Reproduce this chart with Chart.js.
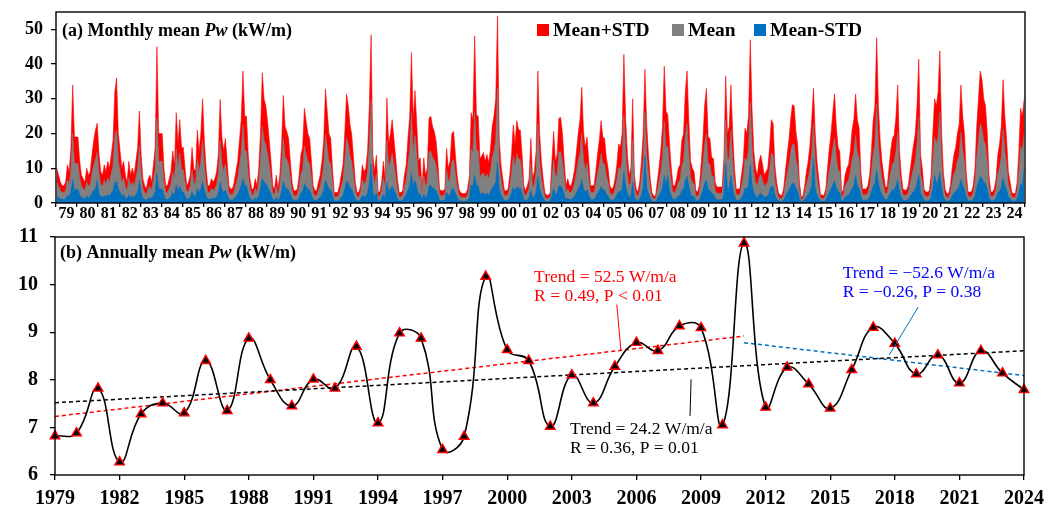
<!DOCTYPE html>
<html>
<head>
<meta charset="utf-8">
<title>Monthly and annual mean Pw</title>
<script src="https://cdn.jsdelivr.net/npm/chart.js@4.4.1/dist/chart.umd.min.js"></script>
<style>
  html, body { margin: 0; padding: 0; background: #fff; }
  #wrap { position: relative; width: 1061px; height: 509px; overflow: hidden; }
  #monthly { position: absolute; left: 0; top: 0; }
  #annual { position: absolute; left: 0; top: 222px; }
</style>
</head>
<body>
<div id="wrap">
  <canvas id="monthly" width="1061" height="225"></canvas>
  <canvas id="annual" width="1061" height="287"></canvas>
</div>
<script>
// ---- data ----
const years = [1979, 1980, 1981, 1982, 1983, 1984, 1985, 1986, 1987, 1988, 1989, 1990,
    1991, 1992, 1993, 1994, 1995, 1996, 1997, 1998, 1999, 2000, 2001, 2002, 2003, 2004,
    2005, 2006, 2007, 2008, 2009, 2010, 2011, 2012, 2013, 2014, 2015, 2016, 2017, 2018,
    2019, 2020, 2021, 2022, 2023, 2024];

// monthly Pw (kW/m), Jan..Dec per row
const meanPlusStd = [
    10, 8, 6, 5, 5, 6, 11, 9, 16, 34, 19, 19,
    19, 12, 8, 7, 6, 10, 8, 9, 14, 18, 21, 23,
    14, 9, 8, 11, 9, 12, 10, 14, 18, 32, 36, 20,
    15, 10, 12, 8, 6, 12, 8, 10, 8, 12, 16, 26.5,
    14, 7, 5, 4, 7, 8, 6, 11, 16, 45, 20, 20,
    20, 10, 5, 5, 7, 9, 15, 11, 26, 17, 24, 16,
    16, 10, 5, 6, 8, 16, 10, 9, 21, 15, 20, 30,
    18, 10, 5, 5, 7, 6, 7, 9, 14, 29.8, 19, 15,
    18.6, 12, 5, 4, 4, 6, 9, 12, 18, 24, 38, 25,
    25, 14, 7, 4, 4, 7, 5, 10, 20, 37.5, 30, 28,
    23.5, 18, 12, 5, 4, 8, 4, 8, 16.7, 31, 22, 20.6,
    18.6, 12, 6, 3.5, 3.5, 4, 8, 13.8, 16, 27.3, 23.5, 20,
    18.6, 12, 5, 3.5, 3.5, 6, 8, 12, 18, 32.8, 26.4, 20,
    18.6, 10, 3, 3, 3, 5, 8, 11, 20, 31.4, 28, 22.5,
    19.6, 12.8, 6, 3, 3, 5, 11, 9, 10, 15, 28, 48.4,
    13.8, 9, 13.8, 3.2, 3.2, 6, 12, 7, 30.2, 17, 20, 24,
    18.6, 13, 7, 3, 3, 3.5, 8, 11, 18.6, 25, 43.3, 24,
    32.4, 23, 12, 13, 4, 13, 8, 10, 24.4, 25, 22, 20.6,
    18, 12, 4, 3.5, 3.5, 4, 15.7, 10, 12, 20, 20.6, 14,
    8, 4, 3, 2.7, 2.7, 2.7, 4, 8, 26, 24, 48.1, 25.4,
    25, 12.8, 13.5, 14.5, 12, 14, 11.5, 15.5, 22, 25, 30, 53.9,
    18.6, 11, 7, 3.5, 3.5, 4, 8, 14, 22.5, 17, 23.7, 21,
    21, 14, 5, 3.5, 5, 7, 18.6, 7, 9, 15, 38, 20,
    12, 7, 3, 2.2, 2.2, 3, 12, 20.6, 12, 14, 24.4, 24.6,
    20, 12, 5, 7, 5, 5, 7, 10, 15, 20, 24, 33.3,
    20.6, 16, 19, 12, 5, 5, 5, 9, 14, 18, 23.7, 19,
    18.6, 13, 10, 5, 4, 4.5, 7, 11, 17, 16, 20, 42.8,
    24.4, 14, 8, 10, 30, 8, 4, 3.2, 6, 12, 20, 38.5,
    22.5, 14, 7, 3, 2, 2, 6, 10, 15, 22, 39.4, 26.4,
    25.4, 17, 10, 5, 5, 7, 10, 11, 18, 20, 32, 38,
    23.5, 12, 10, 9, 3.5, 3.2, 5, 11, 18, 28, 33, 19,
    18.6, 13, 12.8, 6, 4.6, 4.6, 4.6, 4.6, 13, 36.5, 20, 22,
    34, 20, 10, 4, 4, 4, 8, 12, 21.5, 20, 25, 47,
    27, 15, 10, 8, 12, 13.8, 11, 8, 9, 10, 16, 24,
    23, 11, 6, 3, 2.2, 2.2, 4, 9, 13.8, 18, 24, 28.3,
    28, 20.6, 16.7, 6, 1.7, 2, 5, 9, 12, 16.7, 24, 33,
    20, 12, 7, 2.5, 2.2, 2.2, 4, 10, 15.5, 20, 26, 31.4,
    22, 16, 14.8, 3.2, 3.7, 8, 10, 11, 15, 21, 24, 31.4,
    24, 21.5, 9, 4, 4, 4, 5, 8, 15, 23.5, 28, 47.6,
    28, 18, 12, 8, 4.6, 4.6, 10, 15, 18.6, 19.6, 25, 34,
    15, 8, 4, 3.7, 3.7, 5, 9, 13, 16.7, 20, 28, 41.4,
    14, 10, 4, 3.2, 3.2, 3.5, 8, 20, 30, 28, 32, 43.8,
    20, 9, 4, 2.7, 2.7, 5, 10, 13.8, 16, 20, 22.5, 34,
    25, 20, 9, 3.2, 3.2, 3.2, 5, 10, 22, 30, 38, 35.5,
    30, 28, 20, 8, 3.2, 3.2, 4, 7, 13.8, 17, 22, 35.5,
    25, 18.6, 9, 6, 3, 2.7, 2.7, 6, 15, 27.3, 25, 29.8
];

const meanPw = [
    6, 4.8, 3.6, 3, 3, 3.6, 6.6, 5.4, 9.6, 20, 11.4, 11.4,
    11.4, 7.2, 4.8, 4.2, 3.6, 6, 4.8, 5.4, 8.4, 10.8, 12.6, 14.5,
    8.4, 5.4, 4.8, 6.6, 5.4, 7.2, 6, 8.4, 10.8, 19, 21, 12,
    9, 6, 7.2, 4.8, 3.6, 7.2, 4.8, 6, 4.8, 7.2, 9.6, 16.5,
    8.4, 4.2, 3, 2.4, 4.2, 4.8, 3.6, 6.6, 9.6, 24.5, 12, 12,
    12, 6, 3, 3, 4.2, 5.4, 9, 6.6, 15.6, 10.2, 14.4, 9.6,
    9.6, 6, 3, 3.6, 4.8, 9.6, 6, 5.4, 12.6, 9, 12, 18,
    10.8, 6, 3, 3, 4.2, 3.6, 4.2, 5.4, 8.4, 18, 11.4, 9,
    11.2, 7.2, 3, 2.4, 2.4, 3.6, 5.4, 7.2, 10.8, 14.4, 22.5, 15,
    15, 8.4, 4.2, 2.4, 2.4, 4.2, 3, 6, 12, 22, 18, 16.8,
    14.1, 10.8, 7.2, 3, 2.4, 4.8, 2.4, 4.8, 10, 18.6, 13.2, 12.4,
    11.2, 7.2, 3.6, 2.1, 2.1, 2.4, 4.8, 8.3, 9.6, 16.4, 14.1, 12,
    11.2, 7.2, 3, 2.1, 2.1, 3.6, 4.8, 7.2, 10.8, 19.7, 15.8, 12,
    11.2, 6, 1.8, 1.8, 1.8, 3, 4.8, 6.6, 12, 18.8, 16.8, 13.5,
    11.8, 7.7, 3.6, 1.8, 1.8, 3, 6.6, 5.4, 6, 9, 16.8, 29.8,
    8.3, 5.4, 8.3, 1.9, 1.9, 3.6, 7.2, 4.2, 18.1, 10.2, 12, 14.4,
    11.2, 7.8, 4.2, 1.8, 1.8, 2.1, 4.8, 6.6, 11.2, 15, 26, 14.4,
    19.4, 13.8, 7.2, 7.8, 2.4, 7.8, 4.8, 6, 14.6, 15, 13.2, 12.4,
    10.8, 7.2, 2.4, 2.1, 2.1, 2.4, 9.4, 6, 7.2, 12, 12.4, 8.4,
    4.8, 2.4, 1.8, 1.6, 1.6, 1.6, 2.4, 4.8, 15.6, 14.4, 26, 15.2,
    15, 7.7, 8.1, 8.7, 7.2, 8.4, 6.9, 9.3, 13.2, 15, 18, 33,
    11.2, 6.6, 4.2, 2.1, 2.1, 2.4, 4.8, 8.4, 13.5, 10.2, 14.2, 12.6,
    12.6, 8.4, 3, 2.1, 3, 4.2, 11.2, 4.2, 5.4, 9, 22.8, 12,
    7.2, 4.2, 1.8, 1.3, 1.3, 1.8, 7.2, 12.4, 7.2, 8.4, 14.6, 14.8,
    12, 7.2, 3, 4.2, 3, 3, 4.2, 6, 9, 12, 14.4, 20,
    12.4, 9.6, 11.4, 7.2, 3, 3, 3, 5.4, 8.4, 10.8, 14.2, 11.4,
    11.2, 7.8, 6, 3, 2.4, 2.7, 4.2, 6.6, 10.2, 9.6, 12, 25.4,
    14.6, 8.4, 4.8, 6, 18, 4.8, 2.4, 1.9, 3.6, 7.2, 12, 26,
    13.5, 8.4, 4.2, 1.8, 1.2, 1.2, 3.6, 6, 9, 13.2, 23.6, 15.8,
    16.5, 10.2, 6, 3, 3, 4.2, 6, 6.6, 10.8, 12, 19.2, 22.8,
    14.1, 7.2, 6, 5.4, 2.1, 1.9, 3, 6.6, 10.8, 16.8, 19.8, 11.4,
    11.2, 7.8, 7.7, 3.6, 2.8, 2.8, 2.8, 2.8, 7.8, 24, 12, 13.2,
    21, 12, 6, 2.4, 2.4, 2.4, 4.8, 7.2, 12.9, 12, 15, 29,
    16.2, 9, 6, 4.8, 7.2, 8.3, 6.6, 4.8, 5.4, 6, 9.6, 14.4,
    13.8, 6.6, 3.6, 1.8, 1.3, 1.3, 2.4, 5.4, 8.3, 10.8, 14.4, 17,
    16.8, 12.4, 10, 3.6, 1, 1.2, 3, 5.4, 7.2, 10, 14.4, 23,
    12, 7.2, 4.2, 1.5, 1.3, 1.3, 2.4, 6, 9.3, 12, 15.6, 18.8,
    13.2, 9.6, 8.9, 1.9, 2.2, 4.8, 6, 6.6, 9, 12.6, 14.4, 19.5,
    14.4, 12.9, 5.4, 2.4, 2.4, 2.4, 3, 4.8, 9, 14.1, 16.8, 28.5,
    16.8, 10.8, 7.2, 4.8, 2.8, 2.8, 6, 9, 11.2, 11.8, 15, 20.4,
    9, 4.8, 2.4, 2.2, 2.2, 3, 5.4, 7.8, 10, 12, 16.8, 24.8,
    8.4, 6, 2.4, 1.9, 1.9, 2.1, 4.8, 12, 19, 16.8, 19.2, 26.3,
    12, 5.4, 2.4, 1.6, 1.6, 3, 6, 8.3, 9.6, 12, 13.5, 20.4,
    15, 12, 5.4, 1.9, 1.9, 1.9, 3, 6, 13.2, 18, 22.8, 21.3,
    18, 16.8, 12, 4.8, 1.9, 1.9, 2.4, 4.2, 8.3, 10.2, 13.2, 21.3,
    15, 11.2, 5.4, 3.6, 1.8, 1.6, 1.6, 3.6, 9, 16.4, 15, 20
];

const meanMinusStd = [
    2, 1.6, 1.2, 1, 1, 1.2, 2.2, 1.8, 3.2, 6.6, 3.8, 3.8,
    3.8, 2.4, 1.6, 1.4, 1.2, 2, 1.6, 1.8, 2.8, 3.6, 4.2, 6.5,
    2.8, 1.8, 1.6, 2.2, 1.8, 2.4, 2, 2.8, 3.6, 6, 6, 4,
    3, 2, 2.4, 1.6, 1.2, 2.4, 1.6, 2, 1.6, 2.4, 3.2, 6.5,
    2.8, 1.4, 1, 0.8, 1.4, 1.6, 1.2, 2.2, 3.2, 8.5, 4, 4,
    4, 2, 1, 1, 1.4, 1.8, 3, 2.2, 5.2, 3.4, 4.8, 3.2,
    3.2, 2, 1, 1.2, 1.6, 3.2, 2, 1.8, 4.2, 3, 4, 6,
    3.6, 2, 1, 1, 1.4, 1.2, 1.4, 1.8, 2.8, 6, 3.8, 3,
    3.7, 2.4, 1, 0.8, 0.8, 1.2, 1.8, 2.4, 3.6, 4.8, 7, 5,
    5, 2.8, 1.4, 0.8, 0.8, 1.4, 1, 2, 4, 7, 6, 5.6,
    4.7, 3.6, 2.4, 1, 0.8, 1.6, 0.8, 1.6, 3.3, 6.2, 4.4, 4.1,
    3.7, 2.4, 1.2, 0.7, 0.7, 0.8, 1.6, 2.8, 3.2, 5.5, 4.7, 4,
    3.7, 2.4, 1, 0.7, 0.7, 1.2, 1.6, 2.4, 3.6, 6.6, 5.3, 4,
    3.7, 2, 0.6, 0.6, 0.6, 1, 1.6, 2.2, 4, 6.3, 5.6, 4.5,
    3.9, 2.6, 1.2, 0.6, 0.6, 1, 2.2, 1.8, 2, 3, 5.6, 11.2,
    2.8, 1.8, 2.8, 0.6, 0.6, 1.2, 2.4, 1.4, 6, 3.4, 4, 4.8,
    3.7, 2.6, 1.4, 0.6, 0.6, 0.7, 1.6, 2.2, 3.7, 5, 8.7, 4.8,
    6.5, 4.6, 2.4, 2.6, 0.8, 2.6, 1.6, 2, 4.9, 5, 4.4, 4.1,
    3.6, 2.4, 0.8, 0.7, 0.7, 0.8, 3.1, 2, 2.4, 4, 4.1, 2.8,
    1.6, 0.8, 0.6, 0.5, 0.5, 0.5, 0.8, 1.6, 5.2, 4.8, 8, 5.1,
    5, 2.6, 2.7, 2.9, 2.4, 2.8, 2.3, 3.1, 4.4, 5, 6, 11.9,
    3.7, 2.2, 1.4, 0.7, 0.7, 0.8, 1.6, 2.8, 4.5, 3.4, 4.7, 4.2,
    4.2, 2.8, 1, 0.7, 1, 1.4, 3.7, 1.4, 1.8, 3, 7.6, 4,
    2.4, 1.4, 0.6, 0.4, 0.4, 0.6, 2.4, 4.1, 2.4, 2.8, 4.9, 4.9,
    4, 2.4, 1, 1.4, 1, 1, 1.4, 2, 3, 4, 4.8, 6.7,
    4.1, 3.2, 3.8, 2.4, 1, 1, 1, 1.8, 2.8, 3.6, 4.7, 3.8,
    3.7, 2.6, 2, 1, 0.8, 0.9, 1.4, 2.2, 3.4, 3.2, 4, 9,
    4.9, 2.8, 1.6, 2, 6, 1.6, 0.8, 0.6, 1.2, 2.4, 4, 13.5,
    4.5, 2.8, 1.4, 0.6, 0.4, 0.4, 1.2, 2, 3, 4.4, 7.9, 5.3,
    8, 3.4, 2, 1, 1, 1.4, 2, 2.2, 3.6, 4, 6.4, 7.6,
    4.7, 2.4, 2, 1.8, 0.7, 0.6, 1, 2.2, 3.6, 5.6, 6.6, 3.8,
    3.7, 2.6, 2.6, 1.2, 0.9, 0.9, 0.9, 0.9, 2.6, 11.5, 4, 4.4,
    8, 4, 2, 0.8, 0.8, 0.8, 1.6, 2.4, 4.3, 4, 5, 11,
    5.4, 3, 2, 1.6, 2.4, 2.8, 2.2, 1.6, 1.8, 2, 3.2, 4.8,
    4.6, 2.2, 1.2, 0.6, 0.4, 0.4, 0.8, 1.8, 2.8, 3.6, 4.8, 5.7,
    5.6, 4.1, 3.3, 1.2, 0.3, 0.4, 1, 1.8, 2.4, 3.3, 4.8, 13,
    4, 2.4, 1.4, 0.5, 0.4, 0.4, 0.8, 2, 3.1, 4, 5.2, 6.3,
    4.4, 3.2, 3, 0.6, 0.7, 1.6, 2, 2.2, 3, 4.2, 4.8, 8,
    4.8, 4.3, 1.8, 0.8, 0.8, 0.8, 1, 1.6, 3, 4.7, 5.6, 9.5,
    5.6, 3.6, 2.4, 1.6, 0.9, 0.9, 2, 3, 3.7, 3.9, 5, 6.8,
    3, 1.6, 0.8, 0.7, 0.7, 1, 1.8, 2.6, 3.3, 4, 5.6, 8.3,
    2.8, 2, 0.8, 0.6, 0.6, 0.7, 1.6, 4, 8, 5.6, 6.4, 8.8,
    4, 1.8, 0.8, 0.5, 0.5, 1, 2, 2.8, 3.2, 4, 4.5, 6.8,
    5, 4, 1.8, 0.6, 0.6, 0.6, 1, 2, 4.4, 6, 7.6, 7.1,
    6, 5.6, 4, 1.6, 0.6, 0.6, 0.8, 1.4, 2.8, 3.4, 4.4, 7.1,
    5, 3.7, 1.8, 1.2, 0.6, 0.5, 0.5, 1.2, 3, 5.5, 5, 10
];

// annual mean Pw (kW/m)
const annualPw = [6.82, 6.88, 7.82, 6.27, 7.28, 7.51, 7.30, 8.40, 7.35, 8.87,
    8.00, 7.45, 8.01, 7.82, 8.70, 7.09, 8.98, 8.87, 6.53, 6.81,
    10.17, 8.63, 8.40, 7.02, 8.10, 7.51, 8.28, 8.78, 8.61, 9.13,
    9.09, 7.05, 10.87, 7.42, 8.26, 7.91, 7.40, 8.21, 9.10, 8.76,
    8.12, 8.52, 7.93, 8.61, 8.14, 7.79];

// linear trends (end points)
const trendAllYears = [1979, 2024];
const trendAllPw = [7.52, 8.61];
const trendEarlyYears = [1979, 2011];
const trendEarlyPw = [7.23, 8.92];
const trendLateYears = [2011, 2024];
const trendLatePw = [8.78, 8.09];

const monthlyYTicks = [0, 10, 20, 30, 40, 50];
const annualYTicks = [6, 7, 8, 9, 10, 11];
const annualXTicks = [1979, 1982, 1985, 1988, 1991, 1994, 1997, 2000, 2003, 2006,
    2009, 2012, 2015, 2018, 2021, 2024];

// ---- helpers ----
const SERIF = '"Liberation Serif", "Times New Roman", serif';
Chart.defaults.font.family = SERIF;
Chart.defaults.color = '#000';

function monthPoints(values) {
    return values.map((v, i) => ({ x: i + 0.5, y: v }));
}

function yearPoints(xs, values) {
    return values.map((v, i) => ({ x: xs[i], y: v }));
}

function tickMarks(length) {
    return {
        drawOnChartArea: false,
        drawTicks: true,
        tickLength: length,
        color: '#000',
        lineWidth: 1.3
    };
}

// fixed axis size; drop the label overhang so the plot box stays put
function fixSize(prop, size) {
    return s => {
        s[prop] = size;
        s.paddingTop = 0;
        s.paddingBottom = 0;
        s.paddingLeft = 0;
        s.paddingRight = 0;
    };
}

// draws "(a) Monthly mean Pw (kW/m)" with italic Pw
function drawTitle(ctx, x, y, prefix) {
    const parts = [
        [prefix, 'bold 18px ' + SERIF],
        ['Pw', 'italic bold 18px ' + SERIF],
        [' (kW/m)', 'bold 18px ' + SERIF]
    ];
    ctx.textAlign = 'left';
    ctx.textBaseline = 'middle';
    ctx.fillStyle = '#000';
    parts.forEach(([text, font]) => {
        ctx.font = font;
        ctx.fillText(text, x, y);
        x += ctx.measureText(text).width;
    });
}

// box round the plot area
const framePlugin = {
    id: 'frame',
    afterDraw(chart) {
        const { ctx, chartArea: a } = chart;
        ctx.save();
        ctx.strokeStyle = '#000';
        ctx.lineWidth = 1.4;
        ctx.strokeRect(a.left, a.top, a.right - a.left, a.bottom - a.top);
        ctx.restore();
    }
};

// year labels, title and legend of the monthly panel
const monthlyDecor = {
    id: 'monthlyDecor',
    afterDraw(chart) {
        const { ctx, chartArea: a } = chart;
        const xs = chart.scales.x;
        ctx.save();
        ctx.fillStyle = '#000';
        ctx.font = 'bold 16px ' + SERIF;
        ctx.textAlign = 'center';
        ctx.textBaseline = 'middle';
        years.forEach((yr, k) => {
            ctx.fillText(String(yr).slice(2), xs.getPixelForValue(k * 12 + 6), a.bottom + 11);
        });

        drawTitle(ctx, a.left + 6, 31, '(a) Monthly mean ');

        // legend
        const items = [
            ['Mean+STD', '#FF0000', 537],
            ['Mean', '#808080', 672],
            ['Mean-STD', '#0070C0', 754]
        ];
        ctx.font = 'bold 19.5px ' + SERIF;
        ctx.textAlign = 'left';
        items.forEach(([text, color, x]) => {
            ctx.fillStyle = color;
            ctx.fillRect(x, 24, 12, 12);
            ctx.fillStyle = '#000';
            ctx.fillText(text, x + 16, 31);
        });
        ctx.restore();
    }
};

// trend labels and leader lines of the annual panel
const trendNotes = [
    { lines: ['Trend = 52.5 W/m/a', 'R = 0.49, P < 0.01'], color: '#FF0000',
      at: [2001.25, 10.16], leader: [[2005.09, 9.58], [2005.28, 8.62]], leaderColor: '#FF0000' },
    { lines: ['Trend = 24.2 W/m/a', 'R = 0.36, P = 0.01'], color: '#000000',
      at: [2002.92, 6.96], leader: [[2008.54, 8.01], [2008.49, 7.24]], leaderColor: '#000000' },
    { lines: ['Trend = \u221252.6 W/m/a', 'R = \u22120.26, P = 0.38'], color: '#0000FF',
      at: [2015.58, 10.24], leader: [[2019.09, 9.53], [2017.74, 8.52]], leaderColor: '#0070C0' }
];

const annualDecor = {
    id: 'annualDecor',
    afterDraw(chart) {
        const { ctx, chartArea: a } = chart;
        const { x, y } = chart.scales;
        ctx.save();
        drawTitle(ctx, a.left + 5, 31, '(b) Annually mean ');

        ctx.font = '17.5px ' + SERIF;
        ctx.textAlign = 'left';
        ctx.textBaseline = 'middle';
        trendNotes.forEach(n => {
            ctx.strokeStyle = n.leaderColor;
            ctx.lineWidth = 1;
            ctx.beginPath();
            ctx.moveTo(x.getPixelForValue(n.leader[0][0]), y.getPixelForValue(n.leader[0][1]));
            ctx.lineTo(x.getPixelForValue(n.leader[1][0]), y.getPixelForValue(n.leader[1][1]));
            ctx.stroke();
            ctx.fillStyle = n.color;
            n.lines.forEach((t, k) => {
                ctx.fillText(t, x.getPixelForValue(n.at[0]), y.getPixelForValue(n.at[1]) + k * 19.6);
            });
        });
        ctx.restore();
    }
};

// ---- (a) monthly chart ----
function areaSet(label, values, color, order) {
    return {
        label: label,
        data: monthPoints(values),
        borderColor: color,
        backgroundColor: color,
        borderWidth: 0.6,
        fill: 'origin',
        pointRadius: 0,
        tension: 0,
        order: order
    };
}

new Chart(document.getElementById('monthly'), {
    type: 'line',
    data: {
        datasets: [
            areaSet('Mean+STD', meanPlusStd, '#FF0000', 3),
            areaSet('Mean', meanPw, '#808080', 2),
            areaSet('Mean-STD', meanMinusStd, '#0070C0', 1)
        ]
    },
    options: {
        responsive: false,
        animation: false,
        layout: { padding: { top: 12, right: 36, left: 0, bottom: 0 } },
        plugins: { legend: { display: false }, tooltip: { enabled: false } },
        scales: {
            x: {
                type: 'linear',
                min: 0,
                max: meanPlusStd.length,
                afterBuildTicks: s => { s.ticks = years.concat([2025]).map((yr, k) => ({ value: k * 12 })); },
                afterFit: fixSize('height', 22),
                ticks: { display: false },
                grid: tickMarks(4),
                border: { display: false }
            },
            y: {
                min: 0,
                max: 55,
                afterBuildTicks: s => { s.ticks = monthlyYTicks.map(v => ({ value: v })); },
                afterFit: fixSize('width', 56),
                ticks: { font: { size: 18, weight: 'bold' }, padding: 8 },
                grid: tickMarks(5),
                border: { display: false }
            }
        }
    },
    plugins: [framePlugin, monthlyDecor]
});

// ---- (b) annual chart ----
function trendSet(xs, values, color) {
    return {
        data: yearPoints(xs, values),
        borderColor: color,
        borderWidth: 1.5,
        borderDash: [4, 3],
        pointRadius: 0,
        fill: false,
        tension: 0,
        order: 2
    };
}

new Chart(document.getElementById('annual'), {
    type: 'line',
    data: {
        datasets: [
            {
                label: 'Annual mean Pw',
                data: yearPoints(years, annualPw),
                borderColor: '#000',
                borderWidth: 1.6,
                tension: 0.45,
                fill: false,
                pointStyle: 'triangle',
                pointRadius: 5.5,
                pointBackgroundColor: '#000',
                pointBorderColor: '#FF0000',
                pointBorderWidth: 1.4,
                order: 1
            },
            trendSet(trendAllYears, trendAllPw, '#000000'),
            trendSet(trendEarlyYears, trendEarlyPw, '#FF0000'),
            trendSet(trendLateYears, trendLatePw, '#0070C0')
        ]
    },
    options: {
        responsive: false,
        animation: false,
        clip: false,
        layout: { padding: { top: 15, right: 37, left: 0, bottom: 0 } },
        plugins: { legend: { display: false }, tooltip: { enabled: false } },
        scales: {
            x: {
                type: 'linear',
                min: 1979,
                max: 2024,
                afterBuildTicks: s => { s.ticks = annualXTicks.map(v => ({ value: v })); },
                afterFit: fixSize('height', 34),
                ticks: { font: { size: 20, weight: 'bold' }, padding: 7, maxRotation: 0, callback: v => String(v) },
                grid: tickMarks(5),
                border: { display: false }
            },
            y: {
                min: 6,
                max: 11,
                afterBuildTicks: s => { s.ticks = annualYTicks.map(v => ({ value: v })); },
                afterFit: fixSize('width', 55),
                ticks: { font: { size: 20, weight: 'bold' }, padding: 12 },
                grid: tickMarks(5),
                border: { display: false }
            }
        }
    },
    plugins: [framePlugin, annualDecor]
});
</script>
</body>
</html>
